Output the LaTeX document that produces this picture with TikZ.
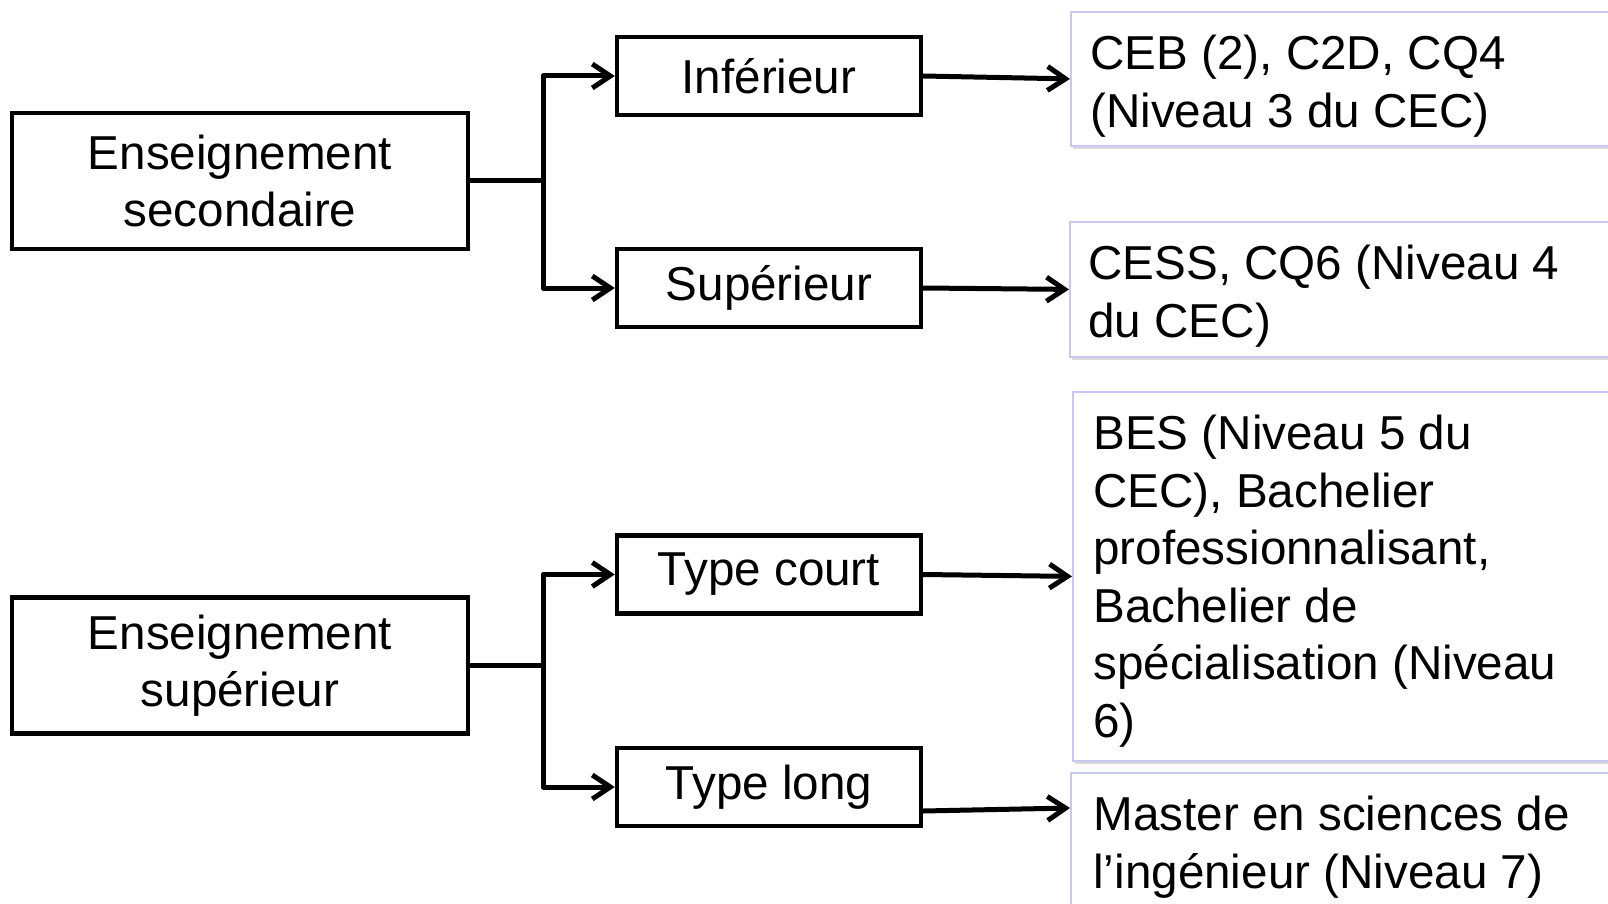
\documentclass[tikz,border=0pt]{standalone}
\usepackage{fontspec}
\setmainfont{Liberation Sans}
\usetikzlibrary{arrows.meta}
\usetikzlibrary{positioning}
\usetikzlibrary{shadows}

\definecolor{diplomaline}{RGB}{200,200,245}

\tikzset{
    sector/.style={
        rectangle, draw=black, line width=2.2pt,
        minimum width=228pt, minimum height=68pt,
        align=center,
    },
    track/.style={
        rectangle, draw=black, line width=2.2pt,
        minimum width=152pt, minimum height=39pt,
    },
    diploma/.style={
        rectangle, anchor=north west,
        draw=diplomaline, line width=0.9pt, fill=white,
        minimum width=290pt,
        drop shadow={shadow xshift=1.2pt, shadow yshift=-1.5pt, opacity=0.3},
    },
    diplomatext/.style={
        anchor=north west, inner sep=0pt, align=left,
    },
    link/.style={line width=2.5pt, line cap=round, line join=round},
    feed/.style={link, -{Straight Barb[length=9pt, width=12pt]}},
}

\begin{document}
\begin{tikzpicture}[x=0.5pt, y=-0.5pt, font=\fontsize{23.8}{28.75}\selectfont]
        \useasboundingbox (0,0) rectangle (1608,904);
        \clip (0,0) rectangle (1608,904);

        % left column
        \node (sec) at (240,181) [sector] {Enseignement\\secondaire};
        \node (sup) at (240,665.5) [sector] {Enseignement\\supérieur};

        % middle column
        \node (inf) at (769,76) [track] {Inférieur};
        \node (supr) at (769,288) [track] {Supérieur};
        \node (court) at (769,574.5) [track] {Type court};
        \node (long) at (769,787) [track] {Type long};

        % right column
        \node (ceb) at (1070,11) [diploma, minimum height=67pt] {};
        \node (cess) at (1069,221) [diploma, minimum height=67.5pt] {};
        \node (bes) at (1072,391) [diploma, minimum height=184.5pt] {};
        \node (master) at (1070,772) [diploma, minimum height=90pt] {};

        \node (cebtext) at ([xshift=10pt, yshift=-12pt]ceb.north west) [diplomatext]
            {CEB (2), C2D, CQ4\\(Niveau 3 du CEC)};
        \node (cesstext) at ([xshift=9.5pt, yshift=-12pt]cess.north west) [diplomatext]
            {CESS, CQ6 (Niveau 4\\du CEC)};
        \node (bestext) at ([xshift=10.5pt, yshift=-12pt]bes.north west) [diplomatext]
            {BES (Niveau 5 du\\CEC), Bachelier\\professionnalisant,\\Bachelier de\\spécialisation (Niveau\\6)};
        \node (mastertext) at ([xshift=11.5pt, yshift=-12pt]master.north west) [diplomatext]
            {Master en sciences de\\l’ingénieur (Niveau 7)};

        % forks
        \draw [link] (sec.east) -- ++(73,0) coordinate (secfork);
        \draw [feed] (secfork) |- (inf.west);
        \draw [feed] (secfork) |- (supr.west);

        \draw [link] (sup.east) -- ++(73,0) coordinate (supfork);
        \draw [feed] (supfork) |- (court.west);
        \draw [feed] (supfork) |- (long.west);

        % to the diplomas
        \draw [feed] (inf.east) -- (ceb.west);
        \draw [feed] (supr.east) -- (cess.west);
        \draw [feed] (court.east) -- (bes.west);
        \draw [feed] ([yshift=-12pt]long.east) -- ([yshift=-18pt]master.north west);
    \end{tikzpicture}
\end{document}
